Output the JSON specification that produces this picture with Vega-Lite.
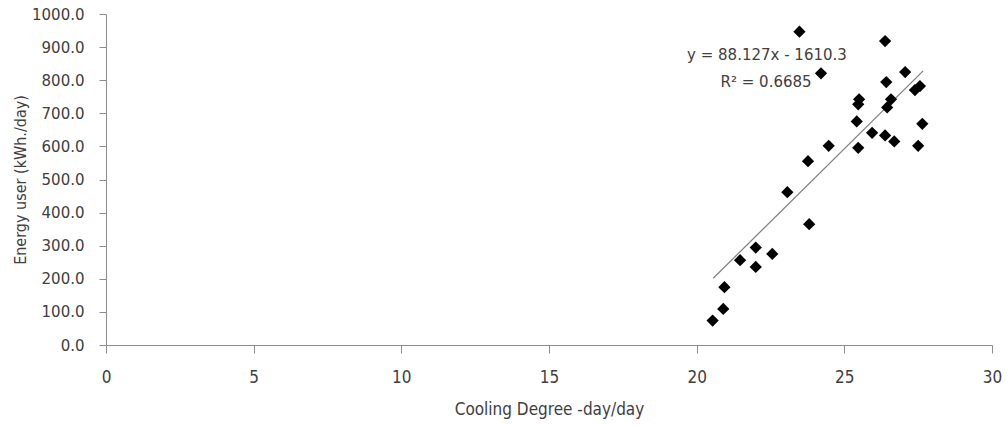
{
  "$schema": "https://vega.github.io/schema/vega-lite/v6.json",
  "width": 886,
  "height": 331,
  "autosize": {"type": "none"},
  "padding": {"left": 106, "top": 14, "right": 16, "bottom": 80},
  "background": "white",
  "config": {"view": {"stroke": null}, "font": "DejaVu Sans", "axis": {"labelOverlap": false, "labelFlush": false, "grid": false}},
  "datasets": {
    "points": [
      {"cdd": 23.48, "energy": 946.5},
      {"cdd": 26.38, "energy": 918.4},
      {"cdd": 24.21, "energy": 820.7},
      {"cdd": 27.06, "energy": 824.6},
      {"cdd": 26.42, "energy": 794.4},
      {"cdd": 27.56, "energy": 782.3},
      {"cdd": 27.39, "energy": 770.2},
      {"cdd": 25.5, "energy": 742.1},
      {"cdd": 25.47, "energy": 727.0},
      {"cdd": 26.58, "energy": 742.1},
      {"cdd": 26.45, "energy": 717.9},
      {"cdd": 25.42, "energy": 675.6},
      {"cdd": 27.64, "energy": 668.3},
      {"cdd": 25.94, "energy": 641.1},
      {"cdd": 26.38, "energy": 633.2},
      {"cdd": 26.69, "energy": 615.1},
      {"cdd": 27.5, "energy": 601.8},
      {"cdd": 24.47, "energy": 601.8},
      {"cdd": 25.47, "energy": 595.7},
      {"cdd": 23.77, "energy": 555.5},
      {"cdd": 23.07, "energy": 461.8},
      {"cdd": 23.81, "energy": 365.0},
      {"cdd": 22.0, "energy": 294.5},
      {"cdd": 22.56, "energy": 275.2},
      {"cdd": 21.47, "energy": 256.1},
      {"cdd": 22.0, "energy": 235.9},
      {"cdd": 20.94, "energy": 174.5},
      {"cdd": 20.9, "energy": 108.9},
      {"cdd": 20.54, "energy": 73.8}
    ],
    "trend": [
      {"cdd": 20.56, "energy": 201.6},
      {"cdd": 27.67, "energy": 828.2}
    ],
    "labels": [
      {"cdd": 22.38, "energy": 876, "text": "y = 88.127x - 1610.3"},
      {"cdd": 22.35, "energy": 794, "text": "R² = 0.6685"}
    ]
  },
  "encoding": {
    "x": {"field": "cdd", "type": "quantitative", "scale": {"domain": [0, 30], "nice": false},
      "axis": {"title": "Cooling Degree -day/day", "values": [0, 5, 10, 15, 20, 25, 30], "grid": false,
        "domainColor": "#8c8c8c", "tickColor": "#8c8c8c", "tickSize": 8, "labelPadding": 16,
        "labelFlush": false, "labelOverlap": false,
        "labelFont": "DejaVu Sans Condensed", "labelFontSize": 17, "labelColor": "#404040",
        "titleFont": "DejaVu Sans Condensed", "titleFontSize": 17, "titleFontWeight": "normal", "titleColor": "#404040", "titlePadding": 16}},
    "y": {"field": "energy", "type": "quantitative", "scale": {"domain": [0, 1000], "nice": false},
      "axis": {"title": "Energy user (kWh./day)", "values": [0, 100, 200, 300, 400, 500, 600, 700, 800, 900, 1000], "format": ".1f", "grid": false,
        "domainColor": "#8c8c8c", "tickColor": "#8c8c8c", "tickSize": 7, "labelPadding": 15,
        "labelFlush": false, "labelOverlap": false,
        "labelFont": "DejaVu Sans", "labelFontSize": 15, "labelColor": "#404040",
        "titleFont": "DejaVu Sans Condensed", "titleFontSize": 16, "titleFontWeight": "normal", "titleColor": "#404040", "titlePadding": 3}}
  },
  "layer": [
    {
      "data": {"name": "trend"},
      "mark": {"type": "line", "color": "#7f7f7f", "strokeWidth": 1.2}
    },
    {
      "data": {"name": "points"},
      "mark": {"type": "point", "shape": "diamond", "filled": true, "color": "black", "opacity": 1, "size": 150}
    },
    {
      "data": {"name": "labels"},
      "mark": {"type": "text", "fontSize": 15, "color": "#404040", "align": "center", "baseline": "middle", "font": "DejaVu Sans"},
      "encoding": {
        "text": {"field": "text"}
      }
    }
  ]
}
